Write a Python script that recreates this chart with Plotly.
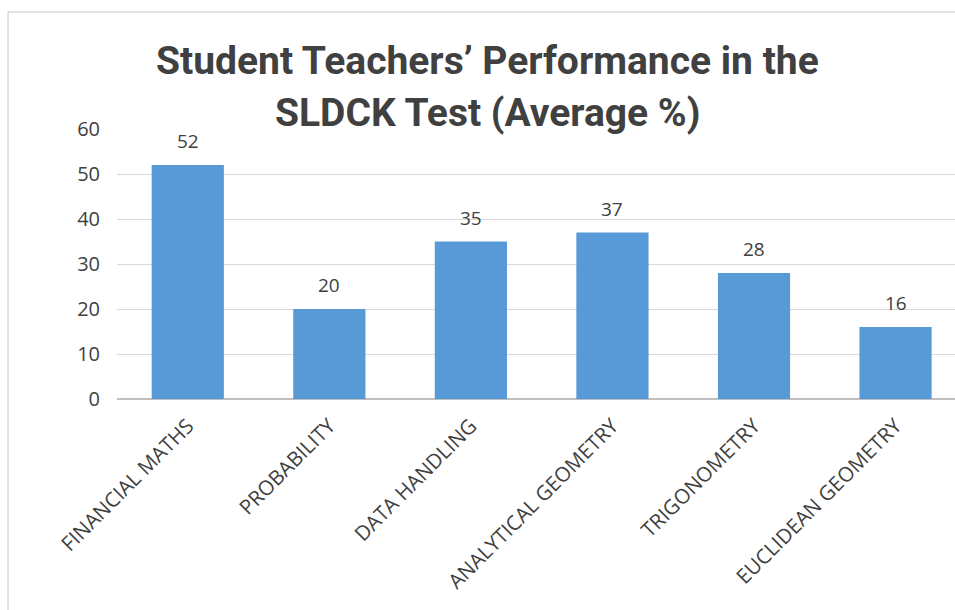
import plotly.graph_objects as go

categories = ["FINANCIAL MATHS", "PROBABILITY", "DATA HANDLING",
              "ANALYTICAL GEOMETRY", "TRIGONOMETRY", "EUCLIDEAN GEOMETRY"]
values = [52, 20, 35, 37, 28, 16]
y_ticks = [0, 10, 20, 30, 40, 50, 60]
title_lines = ["Student Teachers\u2019 Performance in the", "SLDCK Test (Average %)"]

FONT = "Open Sans"
TXT = "#404040"

fig = go.Figure()
fig.add_trace(go.Bar(
    x=categories, y=values, width=0.51,
    marker=dict(color="#5899d8", line=dict(width=0)),
    hoverinfo="x+y",
))

for c, v in zip(categories, values):
    fig.add_annotation(x=c, y=v, text=str(v), showarrow=False,
                       yanchor="bottom", yshift=9,
                       font=dict(family=FONT, size=19, color=TXT))

# title as two lines
PLOT_TOP, PLOT_H = 129, 270
for line, py in zip(title_lines, [61, 113]):
    fig.add_annotation(text=line, showarrow=False,
                       xref="paper", yref="paper",
                       x=(487 - 117) / 838, y=(PLOT_TOP + PLOT_H - py) / PLOT_H,
                       xanchor="center", yanchor="middle",
                       font=dict(family="Roboto", size=39, color="#404040", weight="bold"))

# outer chart frame
fig.add_shape(type="rect", xref="paper", yref="paper",
              x0=-0.130, x1=1.02, y0=-0.85, y1=1.433,
              line=dict(color="#d9d9d9", width=1.5), layer="below")

fig.update_layout(
    width=955, height=610,
    margin=dict(l=117, r=0, t=129, b=211),
    paper_bgcolor="white", plot_bgcolor="white",
    showlegend=False,
    font=dict(family=FONT, color=TXT),
    xaxis=dict(range=[-0.5, 5.42], tickangle=-45, showgrid=False,
               tickfont=dict(family=FONT, size=20.5, color=TXT),
               showline=False, ticks="", ticklabelstandoff=10),
    yaxis=dict(range=[0, 60], tickvals=y_ticks, showgrid=True,
               gridcolor="#d9d9d9", gridwidth=1,
               zeroline=True, zerolinecolor="#bfbfbf", zerolinewidth=1.5,
               tickfont=dict(family=FONT, size=20, color=TXT),
               ticks="", ticklabelstandoff=16),
)

fig.write_html("out.html", config={"displayModeBar": False},
               post_script="document.body.style.margin='0';")
